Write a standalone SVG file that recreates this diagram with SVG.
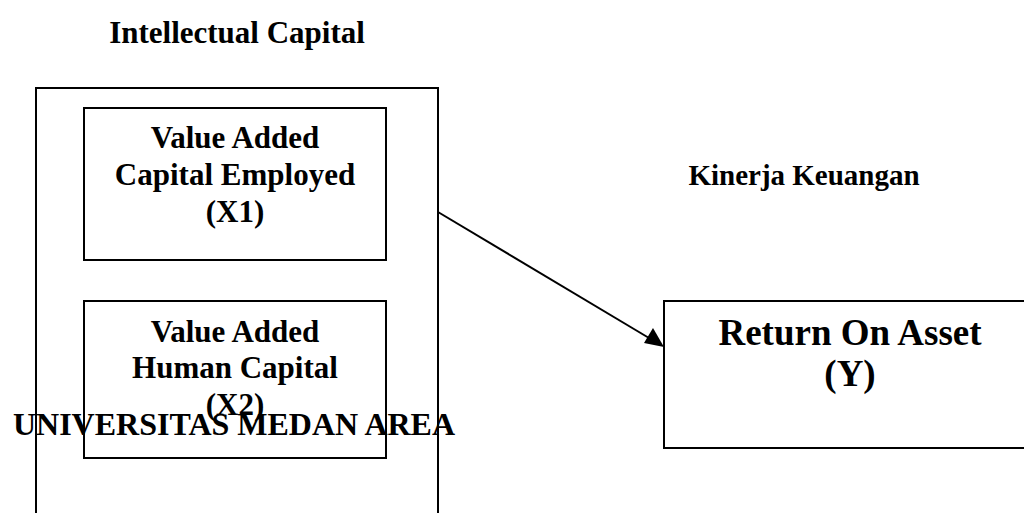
<svg xmlns="http://www.w3.org/2000/svg" width="1024" height="513" viewBox="0 0 1024 513">
  <style>
    .t { font-family: "Liberation Serif", "Times New Roman", serif; font-weight: bold; fill: #000; text-anchor: middle; }
    .box { fill: none; stroke: #000; stroke-width: 2; }
    .conn { stroke: #000; stroke-width: 2; fill: none; }
  </style>
  <rect width="1024" height="513" fill="#fff"/>

  <g id="intellectual-capital">
    <text class="t" x="237" y="43" font-size="31">Intellectual Capital</text>
    <rect class="box" x="36" y="88" width="402" height="440"/>
  </g>

  <g id="x1">
    <rect class="box" x="84" y="108" width="302" height="152"/>
    <text class="t" x="235" y="148" font-size="31">Value Added</text>
    <text class="t" x="235" y="185" font-size="31">Capital Employed</text>
    <text class="t" x="235" y="222" font-size="31">(X1)</text>
  </g>

  <g id="x2">
    <rect class="box" x="84" y="301" width="302" height="157"/>
    <text class="t" x="235" y="342" font-size="31">Value Added</text>
    <text class="t" x="235" y="378" font-size="31">Human Capital</text>
    <text class="t" x="235" y="415" font-size="31">(X2)</text>
  </g>

  <g id="kinerja-keuangan">
    <text class="t" x="804" y="185" font-size="29">Kinerja Keuangan</text>
  </g>

  <g id="y">
    <rect class="box" x="664" y="301" width="380" height="147"/>
    <text class="t" x="850" y="345" font-size="37">Return On Asset</text>
    <text class="t" x="850" y="386" font-size="37">(Y)</text>
  </g>

  <g id="watermark">
    <text class="t" x="234" y="435" font-size="32">UNIVERSITAS MEDAN AREA</text>
  </g>

  <g id="connectors">
    <line class="conn" x1="438" y1="212" x2="649" y2="338"/>
    <path d="M664,347 L644,343 L653,328 z" fill="#000"/>
  </g>
</svg>
